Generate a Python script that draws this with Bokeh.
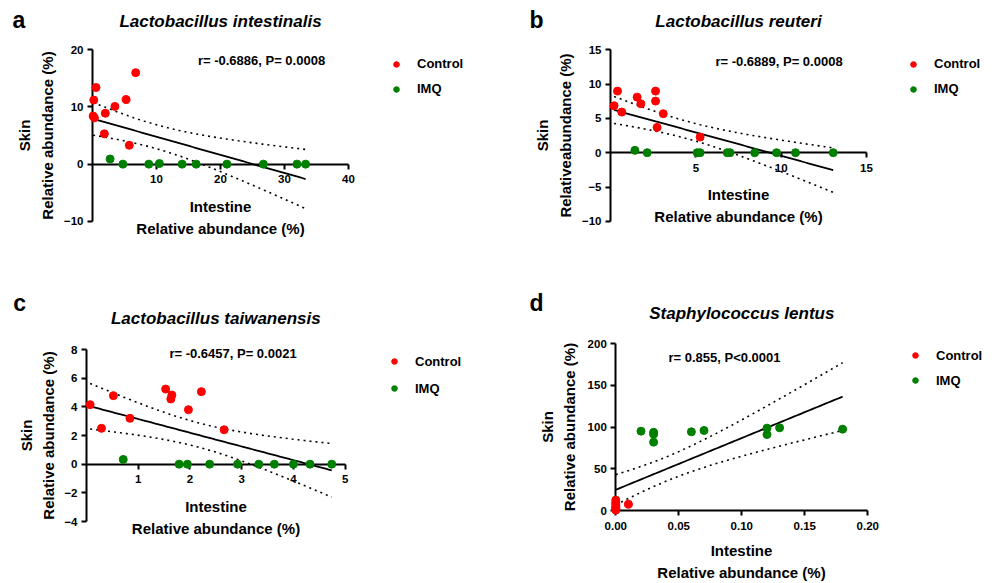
import numpy as np
from bokeh.plotting import figure
from bokeh.models import Range1d, FixedTicker, NumeralTickFormatter, Label, Legend, LegendItem
from bokeh.layouts import row, column
from bokeh.embed import file_html
from bokeh.resources import INLINE

FONT = "Liberation Sans"
RED = "#ff0000"
GREEN = "#008000"
T975 = {17: 2.110, 18: 2.101, 19: 2.093, 20: 2.086}

# ---------------- data ----------------
A_TITLE = "Lactobacillus intestinalis"
A_STAT = "r= -0.6886, P= 0.0008"
A_CTRL_X = [0.2, 0.55, 0.1, 0.3, 2.0, 3.5, 5.25, 6.75, 1.85, 5.75]
A_CTRL_Y = [11.2, 13.4, 8.4, 8.1, 8.9, 10.1, 11.3, 16.0, 5.3, 3.3]
A_IMQ_X = [2.75, 4.75, 8.8, 10.45, 14.0, 16.2, 21.0, 26.7, 31.95, 33.3]
A_IMQ_Y = [0.9, 0.0, 0.0, 0.1, 0.0, 0.0, 0.0, 0.0, 0.0, 0.0]
A_XTICKS = [10, 20, 30, 40]
A_YTICKS = [-10, 0, 10, 20]

B_TITLE = "Lactobacillus reuteri"
B_STAT = "r= -0.6889, P= 0.0008"
B_CTRL_X = [0.21, 0.41, 0.66, 1.56, 1.78, 2.64, 2.64, 3.09, 2.73, 5.25]
B_CTRL_Y = [6.84, 8.98, 5.92, 8.1, 7.13, 8.98, 7.52, 5.68, 3.69, 2.28]
B_IMQ_X = [1.43, 2.15, 5.08, 5.25, 6.84, 7.0, 8.45, 9.73, 10.84, 13.05]
B_IMQ_Y = [0.34, 0.0, 0.0, 0.0, 0.0, 0.0, 0.0, 0.0, 0.0, 0.0]
B_XTICKS = [5, 10, 15]
B_YTICKS = [-10, -5, 0, 5, 10, 15]

C_TITLE = "Lactobacillus taiwanensis"
C_STAT = "r= -0.6457, P= 0.0021"
C_CTRL_X = [0.07, 0.29, 0.52, 0.84, 1.53, 1.65, 1.63, 1.97, 2.22, 2.66]
C_CTRL_Y = [4.15, 2.5, 4.78, 3.2, 5.24, 4.82, 4.55, 3.8, 5.06, 2.4]
C_IMQ_X = [0.71, 1.79, 1.95, 2.38, 2.92, 3.33, 3.63, 4.0, 4.32, 4.74]
C_IMQ_Y = [0.33, 0.0, 0.0, 0.0, 0.0, 0.0, 0.0, 0.0, 0.0, 0.0]
C_XTICKS = [1, 2, 3, 4, 5]
C_YTICKS = [-4, -2, 0, 2, 4, 6, 8]

D_TITLE = "Staphylococcus lentus"
D_STAT = "r= 0.855, P<0.0001"
D_CTRL_X = [0.0, 0.0, 0.0, 0.0, 0.0, 0.0, 0.0, 0.0, 0.0, 0.01]
D_CTRL_Y = [12.5, 10.0, 8.0, 6.0, 4.0, 3.0, 2.0, 1.0, 0.5, 7.6]
D_IMQ_X = [0.02, 0.03, 0.03, 0.03, 0.06, 0.07, 0.12, 0.12, 0.13, 0.18]
D_IMQ_Y = [95.2, 93.8, 91.6, 82.0, 94.4, 96.0, 98.8, 91.2, 99.2, 97.6]
D_XTICKS = [0.0, 0.05, 0.10, 0.15, 0.20]
D_YTICKS = [0, 50, 100, 150, 200]

GROUPS = ["Control", "IMQ"]
X_LABEL = "Intestine\nRelative abundance (%)"
Y_LABEL = "Skin\nRelative abundance (%)"
Y_LABEL_B = "Skin\nRelativeabundance (%)"


def fit_band(x, y):
    x = np.asarray(x, float)
    y = np.asarray(y, float)
    n = len(x)
    b, a = np.polyfit(x, y, 1)
    xs = np.linspace(x.min(), x.max(), 80)
    yh = a + b * xs
    s = np.sqrt(np.sum((y - (a + b * x)) ** 2) / (n - 2))
    sxx = np.sum((x - x.mean()) ** 2)
    se = s * np.sqrt(1.0 / n + (xs - x.mean()) ** 2 / sxx)
    t = T975[n - 2]
    return xs, yh, yh - t * se, yh + t * se


def screen_label(p, h, x, y, text, size, style="bold", align="center", baseline="middle"):
    p.add_layout(Label(x=x, y=h - y, x_units="screen", y_units="screen", text=text,
                       text_font=FONT, text_font_style=style, text_font_size=size,
                       text_align=align, text_baseline=baseline, text_color="black"))


def panel(letter, title, stat, cx, cy, ix, iy, x_lim, y_lim, x_ticks, y_ticks,
          y_label, g, x_fmt=None):
    x0, x1 = x_lim
    y0, y1 = y_lim
    w, h = g["w"], g["h"]
    ppx = g["ax_w"] / (x1 - x0)
    ppy = g["ax_h"] / (y1 - y0)
    xs0 = x0 - g["ax_left"] / ppx
    ye1 = y1 + g["ax_top"] / ppy
    p = figure(width=w, height=h, frame_width=w, frame_height=h, min_border=0,
               x_range=Range1d(xs0, xs0 + w / ppx), y_range=Range1d(ye1 - h / ppy, ye1),
               output_backend="svg", toolbar_location=None)
    p.outline_line_color = None
    p.grid.visible = False
    p.background_fill_color = "white"
    p.border_fill_color = "white"

    for ax in (p.xaxis[0], p.yaxis[0]):
        ax.fixed_location = 0
        ax.axis_line_width = 2
        ax.axis_line_color = "black"
        ax.major_tick_line_width = 2
        ax.major_tick_out = 5
        ax.major_tick_in = 0
        ax.minor_tick_out = 0
        ax.minor_tick_in = 0
        ax.major_label_text_font = FONT
        ax.major_label_text_font_style = "bold"
        ax.major_label_text_font_size = "11.5px"
        ax.major_label_text_color = "black"
        ax.axis_label_text_font = FONT
        ax.axis_label_text_font_style = "bold"
        ax.axis_label_text_font_size = "15px"
        ax.axis_label_text_color = "black"
    xa = p.xaxis[0]
    ya = p.yaxis[0]
    xa.bounds = (x0, x1)
    ya.bounds = (y0, y1)
    xa.ticker = FixedTicker(ticks=x_ticks)
    ya.ticker = FixedTicker(ticks=y_ticks)
    if x_fmt:
        xa.formatter = NumeralTickFormatter(format=x_fmt)
    xa.major_label_standoff = 6
    ya.major_label_standoff = 4
    xa.axis_label = X_LABEL
    ya.axis_label = y_label
    xa.axis_label_standoff = g["xl_so"]
    ya.axis_label_standoff = g["yl_so"]
    xa.axis_label_text_line_height = 1.33
    ya.axis_label_text_line_height = 1.33

    allx = list(cx) + list(ix)
    ally = list(cy) + list(iy)
    xs, yh, lo, hi = fit_band(allx, ally)
    p.line(xs, yh, line_color="black", line_width=1.8)
    p.line(xs, lo, line_color="black", line_width=1.6, line_dash="2 4")
    p.line(xs, hi, line_color="black", line_width=1.6, line_dash="2 4")

    r1 = p.scatter(cx, cy, size=8, fill_color=RED, line_color=RED, level="overlay")
    r2 = p.scatter(ix, iy, size=8, fill_color=GREEN, line_color=GREEN, level="overlay")

    screen_label(p, h, g["ax_left"] + g["ax_w"] / 2, g["title_cy"], title, "17px",
                 style="bold italic")
    screen_label(p, h, g["stat"][0], g["stat"][1], stat, "13px")
    screen_label(p, h, g["letter"][0], g["letter"][1], letter, "23px",
                 align="left", baseline="alphabetic")

    gap = g["leg_gap"]
    mx, my = g["leg"]
    leg_bottom = my - 10 + 20 + gap + 20
    legend = Legend(items=[LegendItem(label=GROUPS[0], renderers=[r1]),
                           LegendItem(label=GROUPS[1], renderers=[r2])],
                    location=(mx - 7, h - leg_bottom),
                    glyph_width=14, glyph_height=20, label_height=20, spacing=gap,
                    padding=0, margin=0, label_standoff=14,
                    border_line_color=None, background_fill_alpha=0,
                    label_text_font=FONT, label_text_font_style="bold",
                    label_text_font_size="13px", label_text_color="black")
    p.add_layout(legend)
    return p


# geometry in each figure's own pixel coordinates
GA = dict(w=500, h=258, ax_left=92, ax_top=49.3, ax_w=256, ax_h=171.5, title_cy=21,
          letter=(12, 19), stat=(261, 60), leg=(396, 63.5), leg_gap=5, xl_so=11, yl_so=5)
GB = dict(w=500, h=258, ax_left=110, ax_top=49.3, ax_w=256, ax_h=171.5, title_cy=21,
          letter=(29, 19), stat=(278.5, 61), leg=(413, 63.5), leg_gap=5, xl_so=11, yl_so=5)
GC = dict(w=500, h=325, ax_left=86, ax_top=91, ax_w=258.7, ax_h=172, title_cy=60.3,
          letter=(12.7, 44.3), stat=(232.5, 95.3), leg=(394, 103), leg_gap=7, xl_so=11, yl_so=4)
GD = dict(w=500, h=325, ax_left=115.3, ax_top=85.3, ax_w=252, ax_h=166.7, title_cy=55.3,
          letter=(29, 44.3), stat=(224, 98.7), leg=(415, 97), leg_gap=5, xl_so=9, yl_so=6)

pa = panel("a", A_TITLE, A_STAT, A_CTRL_X, A_CTRL_Y, A_IMQ_X, A_IMQ_Y, (0, 40), (-10, 20),
           A_XTICKS, A_YTICKS, Y_LABEL, GA)
pb = panel("b", B_TITLE, B_STAT, B_CTRL_X, B_CTRL_Y, B_IMQ_X, B_IMQ_Y, (0, 15), (-10, 15),
           B_XTICKS, B_YTICKS, Y_LABEL_B, GB)
pc = panel("c", C_TITLE, C_STAT, C_CTRL_X, C_CTRL_Y, C_IMQ_X, C_IMQ_Y, (0, 5), (-4, 8),
           C_XTICKS, C_YTICKS, Y_LABEL, GC)
pd = panel("d", D_TITLE, D_STAT, D_CTRL_X, D_CTRL_Y, D_IMQ_X, D_IMQ_Y, (0, 0.2), (0, 200),
           D_XTICKS, D_YTICKS, Y_LABEL, GD, x_fmt="0.00")

layout = column(row(pa, pb), row(pc, pd))
open("out.html", "w").write(file_html(layout, INLINE))
